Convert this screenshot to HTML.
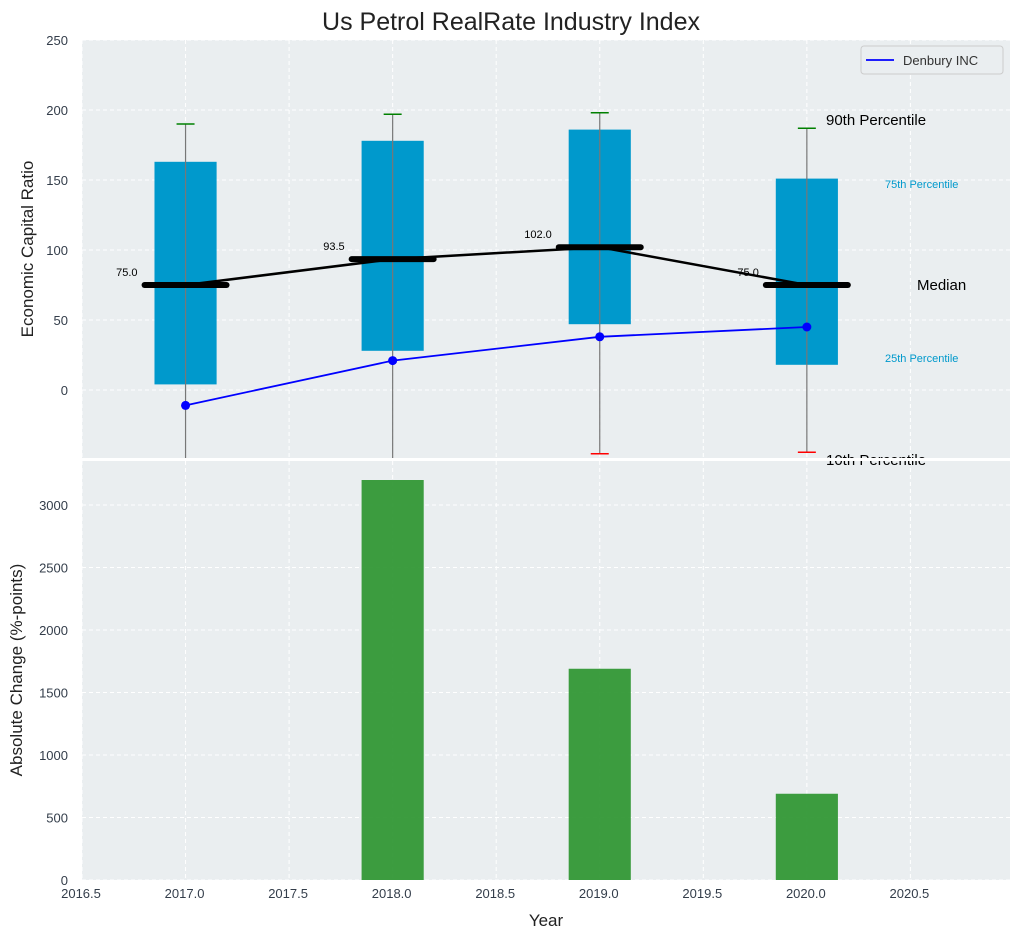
<!DOCTYPE html>
<html><head><meta charset="utf-8"><style>
body{margin:0;background:#fff;font-family:"Liberation Sans",Arial,sans-serif}
svg text{font-family:"Liberation Sans",Arial,sans-serif}
</style></head><body>
<svg id="c" width="1020" height="940" xmlns="http://www.w3.org/2000/svg"></svg>
<script>
const years=[2017,2018,2019,2020];
const q10=[-60,-60,-45.5,-44.5];
const q25=[4,28,47,18];
const medians=[75,93.5,102,75];
const q75=[163,178,186,151];
const q90=[190,197,198,187];
const denbury=[-11,21,38,45];
const changeYears=[2018,2019,2020];
const changes=[3200,1690,690];
const xTicks=[2016.5,2017,2017.5,2018,2018.5,2019,2019.5,2020,2020.5];
const yTopTicks=[0,50,100,150,200,250];
const yBotTicks=[0,500,1000,1500,2000,2500,3000];

const NS="http://www.w3.org/2000/svg";
const svg=document.getElementById('c');
function el(t,a,p){const e=document.createElementNS(NS,t);for(const k in a)e.setAttribute(k,a[k]);(p||svg).appendChild(e);return e;}
const L=82,R=1010,T1=40,B1=458,T2=461,B2=880;
const x=v=>L+(v-2016.5)*207.1;
const yt=v=>390-v*1.4;
const yb=v=>880-v*0.125;

let g=el('rect',{x:L,y:T1,width:R-L,height:B1-T1,fill:'#eaeef0'});

g=el('rect',{x:L,y:T2,width:R-L,height:B2-T2,fill:'#eaeef0'});

el('defs',{}).innerHTML='<clipPath id="ct"><rect x="82" y="40" width="928" height="418"/></clipPath><clipPath id="cb"><rect x="82" y="461" width="928" height="419"/></clipPath>';

xTicks.forEach(v=>{
 el('line',{x1:x(v),x2:x(v),y1:T1,y2:B1,stroke:'#fff','stroke-dasharray':'4,3','stroke-width':1});
 el('line',{x1:x(v),x2:x(v),y1:T2,y2:B2,stroke:'#fff','stroke-dasharray':'4,3','stroke-width':1});
 const t=el('text',{x:x(v)-1,y:B2+18,'text-anchor':'middle','font-size':13,fill:'#333d4a'});t.textContent=v.toFixed(1);
 
});
yTopTicks.forEach(v=>{
 el('line',{x1:L,x2:R,y1:yt(v),y2:yt(v),stroke:'#fff','stroke-dasharray':'4,3'});
 const t=el('text',{x:L-14,y:yt(v)+5,'text-anchor':'end','font-size':13,fill:'#333d4a'});t.textContent=v;
 
});
yBotTicks.forEach(v=>{
 el('line',{x1:L,x2:R,y1:yb(v),y2:yb(v),stroke:'#fff','stroke-dasharray':'4,3'});
 const t=el('text',{x:L-14,y:yb(v)+5,'text-anchor':'end','font-size':13,fill:'#333d4a'});t.textContent=v;
 
});

const gt=el('g',{'clip-path':'url(#ct)'});

const hw=0.15*207.1;
years.forEach((yr,i)=>{
 const cx=x(yr);
 const b=el('rect',{x:cx-hw,y:yt(q75[i]),width:2*hw,height:yt(q25[i])-yt(q75[i]),fill:'#0099cc'},gt);
 
 el('line',{x1:cx,x2:cx,y1:yt(q90[i]),y2:yt(q10[i]),stroke:'#777','stroke-width':1.2},gt);
 el('line',{x1:cx-9,x2:cx+9,y1:yt(q90[i]),y2:yt(q90[i]),stroke:'green','stroke-width':1.5},gt);
 el('line',{x1:cx-9,x2:cx+9,y1:yt(q10[i]),y2:yt(q10[i]),stroke:'red','stroke-width':1.5},gt);
});
el('polyline',{points:years.map((yr,i)=>x(yr)+','+yt(medians[i])).join(' '),fill:'none',stroke:'#000','stroke-width':2.5},gt);
years.forEach((yr,i)=>{
 const cx=x(yr);
 const m=el('line',{x1:cx-41,x2:cx+41,y1:yt(medians[i]),y2:yt(medians[i]),stroke:'#000','stroke-width':6,'stroke-linecap':'round'},gt);
 
 const t=el('text',{x:cx-48,y:yt(medians[i])-9,'text-anchor':'end','font-size':11,fill:'#000'},gt);t.textContent=medians[i].toFixed(1);
 
});
const dl=el('polyline',{points:years.map((yr,i)=>x(yr)+','+yt(denbury[i])).join(' '),fill:'none',stroke:'blue','stroke-width':1.8},gt);

years.forEach((yr,i)=>{const p=el('circle',{cx:x(yr),cy:yt(denbury[i]),r:4.5,fill:'blue'},gt);
 });

[['90th Percentile',826,125,15,'#000'],['75th Percentile',885,188,11,'#0099cc'],['Median',917,290,15,'#000'],['25th Percentile',885,362,11,'#0099cc'],['10th Percentile',826,465,15,'#000']].forEach(a=>{
 const t=el('text',{x:a[1],y:a[2],'font-size':a[3],fill:a[4]});t.textContent=a[0];
 
});

const gb=el('g',{'clip-path':'url(#cb)'});
changeYears.forEach((yr,i)=>{
 const r=el('rect',{x:x(yr)-hw,y:yb(changes[i]),width:2*hw,height:yb(0)-yb(changes[i]),fill:'#2e9632',opacity:0.93},gb);
 
});
el('rect',{x:L,y:B1,width:R-L,height:3,fill:'#fff'});

const lg=el('g',{});
el('rect',{x:861,y:46,width:142,height:28,rx:3,fill:'#eaeef0',stroke:'#ccc'},lg);
el('line',{x1:866,x2:894,y1:60,y2:60,stroke:'blue','stroke-width':1.8},lg);
const lt=el('text',{x:903,y:65,'font-size':13,fill:'#333'},lg);lt.textContent='Denbury INC';

let t=el('text',{x:511,y:30,'text-anchor':'middle','font-size':25,fill:'#222'});t.textContent='Us Petrol RealRate Industry Index';

t=el('text',{x:0,y:0,'text-anchor':'middle','font-size':17,fill:'#222',transform:'translate(33,249) rotate(-90)'});t.textContent='Economic Capital Ratio';

t=el('text',{x:0,y:0,'text-anchor':'middle','font-size':17,fill:'#222',transform:'translate(22,670) rotate(-90)'});t.textContent='Absolute Change (%-points)';

t=el('text',{x:546,y:926,'text-anchor':'middle','font-size':17,fill:'#222'});t.textContent='Year';

</script>
</body></html>
